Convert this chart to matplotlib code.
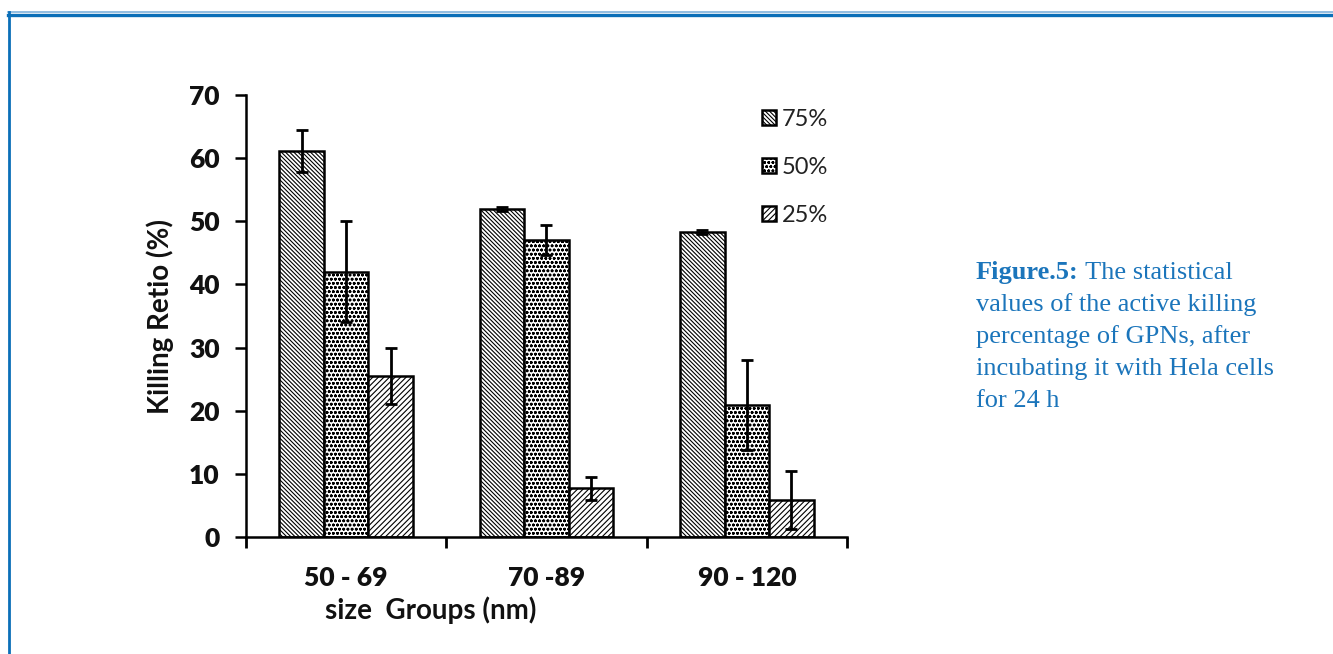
import matplotlib
matplotlib.use("Agg")
import matplotlib.pyplot as plt
from matplotlib.lines import Line2D
from matplotlib.patches import Patch
import numpy as np

# Data: killing ratio (%) per size group and concentration
groups = ["50 - 69", "70 -89", "90 - 120"]
series = ["75%", "50%", "25%"]
vals_75 = [61.1, 52.0, 48.3]
err_75 = [3.3, 0.3, 0.3]
vals_50 = [42.0, 47.0, 20.9]
err_50 = [8.0, 2.4, 7.2]
vals_25 = [25.5, 7.7, 5.9]
err_25 = [4.4, 1.8, 4.6]
yticks = [0, 10, 20, 30, 40, 50, 60, 70]

values = [vals_75, vals_50, vals_25]
errors = [err_75, err_50, err_25]
hatches = ["\\" * 8, "oooo", "/" * 6]

plt.rcParams["hatch.linewidth"] = 0.8
W, H = 1333, 654
fig = plt.figure(figsize=(W / 100, H / 100), dpi=100)
fig.patch.set_facecolor("white")

ax = fig.add_axes([246 / W, 1 - 537 / H, (847 - 246) / W, (537 - 95) / H])
x = np.arange(len(groups))
bw = 0.222
for i, (v, e, h, lab) in enumerate(zip(values, errors, hatches, series)):
    pos = x + (i - 1) * bw
    ax.bar(pos, v, width=bw, color="white", edgecolor="black", linewidth=1.8,
           hatch=h, label=lab, zorder=2)
    ax.errorbar(pos, v, yerr=e, fmt="none", ecolor="black", elinewidth=2,
                capsize=4.5, capthick=2, zorder=3)

ax.set_xlim(-0.5, 2.5)
ax.set_ylim(0, 70)
ax.set_yticks(yticks)
ax.set_xticks(x)
ax.set_xticklabels(groups)
ax.set_xticks([-0.5, 0.5, 1.5, 2.5], minor=True)
ax.tick_params(axis="x", which="major", length=0, pad=21)
ax.tick_params(axis="x", which="minor", length=8, width=2, direction="out")
ax.tick_params(axis="y", length=8, width=1.8, direction="out", pad=11)
for lbl in ax.get_xticklabels() + ax.get_yticklabels():
    lbl.set_fontfamily("Lato")
    lbl.set_fontweight("heavy")
    lbl.set_fontsize(19)
    lbl.set_color("#111111")
for s in ["top", "right"]:
    ax.spines[s].set_visible(False)
for s in ["left", "bottom"]:
    ax.spines[s].set_linewidth(1.8)

ax.set_ylabel("Killing Retio (%)", fontfamily="Lato", fontweight="bold",
              fontsize=20, color="#111111", va="center")
ax.yaxis.set_label_coords(-0.143, 0.5)
ax.set_xlabel("size  Groups (nm)", fontfamily="Lato", fontweight="bold",
              fontsize=20, color="#111111", va="center")
ax.xaxis.set_label_coords(0.308, -0.165)

handles = [Patch(facecolor="white", edgecolor="black", hatch=h, linewidth=1.8)
           for h in hatches]
leg = ax.legend(handles, series, loc="upper left", bbox_to_anchor=(0.843, 0.99),
                frameon=False, prop={"family": "Lato", "size": 17},
                handlelength=0.6, handleheight=0.6, handletextpad=0.25,
                labelspacing=1.15, borderaxespad=0.0)
for t in leg.get_texts():
    t.set_color("#222222")

# Caption block on the right
cap_color = "#1b75bb"
cap_x = 976 / W
baselines = [279, 311, 343, 375, 407]
lines = ["values of the active killing", "percentage of GPNs, after",
         "incubating it with Hela cells", "for 24 h"]
fs = 19
t1 = fig.text(cap_x, 1 - baselines[0] / H, "Figure.5:", family="Liberation Serif",
              fontweight="bold", fontsize=fs, color=cap_color, va="baseline")
fig.canvas.draw()
bb = t1.get_window_extent(renderer=fig.canvas.get_renderer())
fig.text(bb.x1 / W, 1 - baselines[0] / H, " The statistical", family="Liberation Serif",
         fontsize=fs, color=cap_color, va="baseline")
for yb, line in zip(baselines[1:], lines):
    fig.text(cap_x, 1 - yb / H, line, family="Liberation Serif", fontsize=fs,
             color=cap_color, va="baseline")

# Blue frame along the top and left edges
frame_color = "#0b6fb8"
fig.add_artist(Line2D([8 / W, 1], [1 - 12 / H, 1 - 12 / H], color="#7fb2dc",
                      linewidth=1.2, transform=fig.transFigure))
fig.add_artist(Line2D([8 / W, 1], [1 - 14.5 / H, 1 - 14.5 / H], color=frame_color,
                      linewidth=2.4, transform=fig.transFigure))
fig.add_artist(Line2D([8.5 / W, 8.5 / W], [1 - 12 / H, 0], color=frame_color,
                      linewidth=2.0, transform=fig.transFigure))

fig.savefig("out.png", dpi=100, facecolor="white")
